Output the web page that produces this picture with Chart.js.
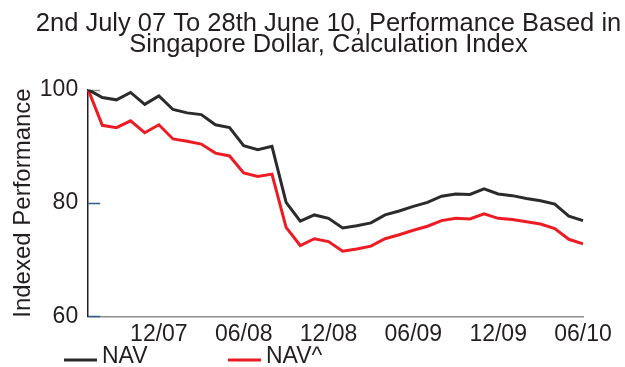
<!DOCTYPE html>
<html>
<head>
<meta charset="utf-8">
<title>Performance</title>
<script src="https://cdn.jsdelivr.net/npm/chart.js@4.4.1/dist/chart.umd.min.js"></script>
<style>
  body { margin: 0; background: #fff; }
</style>
</head>
<body>
<canvas id="perfChart" width="625" height="367"></canvas>
<script>
const months = [
  "07/07", "08/07", "09/07", "10/07", "11/07", "12/07",
  "01/08", "02/08", "03/08", "04/08", "05/08", "06/08",
  "07/08", "08/08", "09/08", "10/08", "11/08", "12/08",
  "01/09", "02/09", "03/09", "04/09", "05/09", "06/09",
  "07/09", "08/09", "09/09", "10/09", "11/09", "12/09",
  "01/10", "02/10", "03/10", "04/10", "05/10", "06/10",
];

const navValues = [
  100, 98.6, 98.2, 99.5, 97.4, 98.9, 96.5, 95.9, 95.6, 93.8, 93.3, 90.1,
  89.4, 90.0, 80.1, 76.8, 77.9, 77.3, 75.6, 76.0, 76.5, 77.9, 78.6, 79.4,
  80.1, 81.2, 81.6, 81.5, 82.5, 81.6, 81.3, 80.8, 80.4, 79.8, 77.7, 76.9,
];

const navHatValues = [
  100, 93.7, 93.3, 94.5, 92.4, 93.8, 91.3, 90.9, 90.4, 88.8, 88.3, 85.3,
  84.7, 85.1, 75.7, 72.5, 73.7, 73.2, 71.5, 71.9, 72.4, 73.7, 74.4, 75.2,
  75.9, 76.9, 77.3, 77.2, 78.1, 77.3, 77.1, 76.7, 76.3, 75.5, 73.6, 72.8,
];

const seriesNames = ["NAV", "NAV^"];
const yTickValues = [60, 80, 100];

const TEXT = "#231f20";
const FONT = '"Liberation Sans", Arial, Helvetica, sans-serif';
const tickColors = ["#2e5d94", "#2e5d94", "#8f8f8f"];

// short tick marks drawn inward from the y axis
const innerTicks = {
  id: "innerTicks",
  beforeDatasetsDraw(chart) {
    const { ctx, chartArea, scales } = chart;
    ctx.save();
    ctx.lineWidth = 1.5;
    scales.y.ticks.forEach((tick, i) => {
      const py = Math.round(scales.y.getPixelForValue(tick.value)) + 0.5;
      ctx.strokeStyle = tickColors[i] || tickColors[0];
      ctx.beginPath();
      ctx.moveTo(chartArea.left, py);
      ctx.lineTo(chartArea.left + 12, py);
      ctx.stroke();
    });
    ctx.restore();
  },
};

// legend under the axis: a line sample followed by the series name
const lineLegend = {
  id: "lineLegend",
  afterDraw(chart) {
    const { ctx } = chart;
    ctx.save();
    ctx.font = "23px " + FONT;
    ctx.textBaseline = "middle";
    chart.data.datasets.forEach((ds, i) => {
      const x = 64 + i * 164;
      const y = 357;
      ctx.strokeStyle = ds.borderColor;
      ctx.lineWidth = 3;
      ctx.beginPath();
      ctx.moveTo(x, y + 3);
      ctx.lineTo(x + 33, y + 3);
      ctx.stroke();
      ctx.fillStyle = TEXT;
      ctx.fillText(ds.label, x + 38, y);
    });
    ctx.restore();
  },
};

const ctx = document.getElementById("perfChart").getContext("2d");

new Chart(ctx, {
  type: "line",
  data: {
    labels: months,
    datasets: [
      {
        label: seriesNames[0],
        data: navValues,
        borderColor: "#2b2b2b",
        borderWidth: 3,
        pointRadius: 0,
        fill: false,
      },
      {
        label: seriesNames[1],
        data: navHatValues,
        borderColor: "#ed1c24",
        borderWidth: 3,
        pointRadius: 0,
        fill: false,
      },
    ],
  },
  options: {
    responsive: false,
    animation: false,
    devicePixelRatio: 1,
    layout: {
      padding: { left: 32, right: 0, top: 0, bottom: 15 },
    },
    scales: {
      x: {
        grid: { display: false, drawTicks: false },
        border: { color: "#8c8c8c", width: 1.5 },
        afterFit: (scale) => {
          scale.paddingRight = 42;
        },
        ticks: {
          autoSkip: false,
          maxRotation: 0,
          minRotation: 0,
          padding: 4,
          color: TEXT,
          font: { family: FONT, size: 23 },
          callback: function (value) {
            const label = this.getLabelForValue(value);
            return label.startsWith("06/") || label.startsWith("12/") ? label : "";
          },
        },
      },
      y: {
        min: 60,
        max: 100,
        afterBuildTicks: (scale) => {
          scale.ticks = yTickValues.map((v) => ({ value: v }));
        },
        grid: { display: false, drawTicks: false },
        border: { color: "#231f20", width: 1.5 },
        ticks: {
          padding: 10,
          color: TEXT,
          font: { family: FONT, size: 23 },
        },
        title: {
          display: true,
          text: "Indexed Performance",
          color: TEXT,
          font: { family: FONT, size: 24 },
          padding: { top: -23, bottom: -8 },
        },
      },
    },
    plugins: {
      legend: { display: false },
      tooltip: { enabled: false },
      title: {
        display: true,
        text: [
          "2nd July 07 To 28th June 10, Performance Based in",
          "Singapore Dollar, Calculation Index",
        ],
        color: TEXT,
        font: { family: FONT, size: 25.5, weight: "normal", lineHeight: 0.83 },
        padding: { top: 13.5, bottom: 33.8 },
      },
    },
  },
  plugins: [innerTicks, lineLegend],
});
</script>
</body>
</html>
